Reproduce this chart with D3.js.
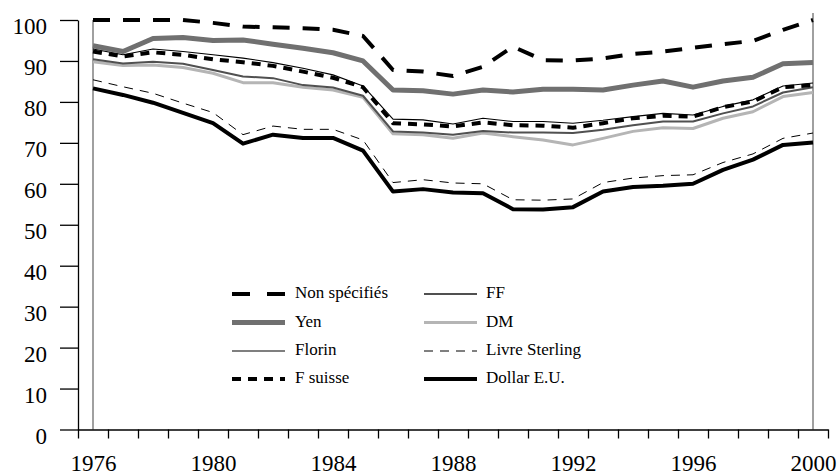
<!DOCTYPE html>
<html>
<head>
<meta charset="utf-8">
<script src="https://cdn.jsdelivr.net/npm/d3@7"></script>
<style>
  html, body { margin: 0; padding: 0; background: #fff; }
  svg { display: block; }
  svg text { font-family: "Liberation Serif", "DejaVu Serif", "Times New Roman", serif; fill: #000; }
</style>
</head>
<body>
<svg id="chart" width="839" height="475"></svg>
<script>
// ---- data ----
const years = d3.range(1976, 2001);
const xLabels = [1976, 1980, 1984, 1988, 1992, 1996, 2000];
const yTicks = [0, 10, 20, 30, 40, 50, 60, 70, 80, 90, 100];

const nonSpecifies = [100, 100, 100, 100, 99.3, 98.4, 98.2, 98.0, 97.6, 96.1, 87.8, 87.4, 86.3, 88.6, 93.5, 90.2, 90.1, 90.6, 91.7, 92.3, 93.2, 94.1, 94.9, 97.6, 100];
const yen          = [93.7, 92.3, 95.5, 95.7, 95.0, 95.1, 94.1, 93.1, 92.0, 90.0, 82.9, 82.7, 81.9, 82.9, 82.4, 83.1, 83.1, 82.9, 84.1, 85.1, 83.6, 85.1, 86.0, 89.3, 89.6];
const florin       = [92.9, 91.5, 92.9, 92.3, 91.5, 90.7, 89.6, 88.2, 86.6, 83.9, 75.8, 75.6, 74.6, 76.0, 75.2, 75.2, 74.8, 75.5, 76.4, 77.2, 76.8, 78.9, 80.5, 83.9, 84.6];
const fSuisse      = [92.3, 91.1, 92.1, 91.5, 90.4, 89.7, 88.8, 87.4, 85.9, 83.6, 74.8, 74.5, 74.0, 75.0, 74.3, 74.2, 73.7, 74.8, 76.0, 76.6, 76.4, 78.7, 80.1, 83.6, 84.1];
const ff           = [90.4, 89.4, 89.8, 89.3, 87.8, 86.2, 85.8, 84.1, 83.5, 81.5, 72.8, 72.5, 72.0, 72.9, 72.5, 72.5, 72.4, 73.2, 74.3, 75.2, 75.2, 77.2, 78.9, 82.3, 83.6];
const dm           = [89.8, 88.9, 89.0, 88.4, 87.0, 84.7, 84.7, 83.6, 82.9, 81.1, 72.2, 72.0, 71.1, 72.4, 71.5, 70.7, 69.5, 71.1, 72.8, 73.7, 73.5, 76.0, 77.6, 81.3, 82.3];
const livreSterling= [85.4, 83.7, 82.1, 79.7, 77.4, 72.0, 74.1, 73.3, 73.3, 70.7, 60.3, 61.0, 60.2, 60.0, 56.1, 56.0, 56.3, 60.3, 61.4, 62.0, 62.2, 65.2, 67.3, 71.1, 72.4];
const dollar       = [83.3, 81.7, 79.8, 77.3, 74.8, 69.8, 72.0, 71.2, 71.2, 68.1, 58.1, 58.7, 57.9, 57.7, 53.8, 53.7, 54.3, 58.1, 59.2, 59.5, 60.0, 63.4, 65.9, 69.5, 70.1];

const seriesNames = ["Non spécifiés", "Yen", "Florin", "F suisse", "FF", "DM", "Livre Sterling", "Dollar E.U."];
const seriesValues = [nonSpecifies, yen, florin, fSuisse, ff, dm, livreSterling, dollar];

// ---- styles (kept separate from data) ----
const FONT = '"Liberation Serif", "DejaVu Serif", "Times New Roman", serif';
const styles = {
  "Non spécifiés":  { stroke: "#000",    width: 4,   dash: "17,13", legendDash: "18,17" },
  "Yen":            { stroke: "#707070", width: 5,   dash: null },
  "Florin":         { stroke: "#000",    width: 1.1, dash: null },
  "F suisse":       { stroke: "#000",    width: 4,   dash: "9,7" },
  "FF":             { stroke: "#505050", width: 2,   dash: null },
  "DM":             { stroke: "#b5b5b5", width: 3,   dash: null },
  "Livre Sterling": { stroke: "#000",    width: 1,   dash: "9,7" },
  "Dollar E.U.":    { stroke: "#000",    width: 4,   dash: null }
};
const drawOrder = ["Yen", "DM", "FF", "Florin", "Livre Sterling", "Dollar E.U.", "F suisse", "Non spécifiés"];

const svg = d3.select("#chart");
const plotLeft = 78, plotRight = 828, plotTop = 20, plotBottom = 429.5;

const x = d3.scaleLinear().domain([1975.5, 2000.5]).range([plotLeft, plotRight]);
const y = d3.scaleLinear().domain([0, 100]).range([plotBottom, plotTop]);

// gray vertical lines at first and last year
svg.append("line")
  .attr("x1", x(1976)).attr("x2", x(1976))
  .attr("y1", y(100)).attr("y2", plotBottom)
  .attr("stroke", "#808080").attr("stroke-width", 1.5);
svg.append("line")
  .attr("x1", x(2000)).attr("x2", x(2000))
  .attr("y1", 13).attr("y2", plotBottom)
  .attr("stroke", "#808080").attr("stroke-width", 1.5);

// y axis
const yAxis = svg.append("g")
  .attr("transform", `translate(${plotLeft},0)`)
  .call(d3.axisLeft(y).tickValues(yTicks).tickSize(18).tickSizeOuter(0).tickPadding(13));
yAxis.attr("font-family", FONT).attr("font-size", 23);
yAxis.select(".domain").attr("stroke", "#000").attr("stroke-width", 1.3);
yAxis.selectAll(".tick line").attr("stroke", "#000").attr("stroke-width", 1.3);
yAxis.selectAll("text")
  .style("font-family", FONT)
  .style("font-size", "23px")
  .attr("dy", "0.6em");

// x axis: ticks at year boundaries
const xAxisTicks = svg.append("g")
  .attr("transform", `translate(0,${plotBottom})`)
  .call(d3.axisBottom(x).tickValues(d3.range(1975.5, 2001, 1)).tickSize(9).tickSizeOuter(0).tickFormat(""));
xAxisTicks.select(".domain").attr("stroke", "#000").attr("stroke-width", 1.3);
xAxisTicks.selectAll(".tick line").attr("stroke", "#000").attr("stroke-width", 1.3);

// x axis labels at year centres
const xAxisLabels = svg.append("g")
  .attr("transform", `translate(0,${plotBottom})`)
  .call(d3.axisBottom(x).tickValues(xLabels).tickSize(0).tickFormat(d3.format("d")));
xAxisLabels.attr("font-family", FONT).attr("font-size", 23);
xAxisLabels.select(".domain").remove();
xAxisLabels.selectAll("text")
  .style("font-family", FONT)
  .style("font-size", "23px")
  .attr("y", 41).attr("dy", 0);

// lines
const line = d3.line()
  .x((d, i) => x(years[i]))
  .y(d => y(d));

drawOrder.forEach(name => {
  const idx = seriesNames.indexOf(name);
  const st = styles[name];
  svg.append("path")
    .datum(seriesValues[idx])
    .attr("d", line)
    .attr("fill", "none")
    .attr("stroke", st.stroke)
    .attr("stroke-width", st.width)
    .attr("stroke-dasharray", st.dash)
    .attr("stroke-linejoin", "round");
});

// legend
const legendCols = [
  { sx1: 232, sx2: 285, tx: 295 },
  { sx1: 424, sx2: 477, tx: 486 }
];
const legendRows = [294, 322.5, 351, 379];
seriesNames.forEach((name, i) => {
  const col = legendCols[Math.floor(i / 4)];
  const ry = legendRows[i % 4];
  const st = styles[name];
  svg.append("line")
    .attr("x1", col.sx1).attr("x2", col.sx2)
    .attr("y1", ry).attr("y2", ry)
    .attr("stroke", st.stroke)
    .attr("stroke-width", st.width)
    .attr("stroke-dasharray", st.legendDash || st.dash);
  svg.append("text")
    .attr("x", col.tx).attr("y", ry + 4)
    .style("font-family", FONT)
    .style("font-size", "17px")
    .text(name);
});
</script>
</body>
</html>
